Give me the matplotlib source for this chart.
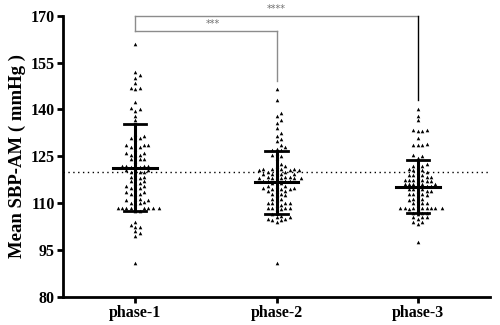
import numpy as np
import matplotlib
matplotlib.use("Agg")
import matplotlib.pyplot as plt

# values (mmHg)
groups = ["phase-1", "phase-2", "phase-3"]

phase1 = [161, 152, 151, 150, 148.5, 147, 147, 146.5, 142.5, 140.5, 140, 139.5, 138, 136.5,
          132, 131.5, 131, 131, 130.5,
          128.5, 128.5, 128, 128, 128.5, 127.5,
          126, 125.5, 125.5, 125.5, 126,
          124, 124, 123.5, 124,
          122, 122, 121.5, 122, 121.5, 122, 121,
          120.5, 120, 120.5, 120, 119.5, 120,
          118.5, 118, 118.5, 118,
          117, 116.5, 117, 116.5,
          115.5, 115, 115, 115.5, 114.5,
          113.5, 113, 113.5, 113, 113,
          111.5, 111, 111.5, 111,
          110, 110.5, 110, 110,
          108.5, 108.5, 108.5, 108.5, 108.5, 108.5, 108.5, 108.5,
          107.5, 107.5,
          104, 103, 102.5, 102.5, 101, 100.5, 99.5,
          91]

phase2 = [146.5, 143, 139, 138, 136.5, 135.5, 134, 132.5, 131.5, 130.5, 130, 128.5, 128,
          127.5, 127, 127, 126,
          125, 125.5, 124.5,
          122, 122.5, 122,
          121, 120.5, 121, 120.5, 121, 120.5, 121,
          120, 119.5, 120, 119.5, 119.5, 120, 119.5,
          118.5, 118, 118.5, 118, 118.5, 118, 118, 118.5, 118,
          117, 117, 116.5, 117, 116.5, 117, 117,
          115.5, 115.5, 115, 115.5, 115,
          114.5, 114, 114.5, 114, 114.5, 114,
          113, 112.5, 113, 112.5,
          111.5, 111, 111.5,
          110, 110, 109.5, 110, 109.5, 110,
          108.5, 108.5, 108, 108.5, 108, 108.5,
          106.5, 106,
          105, 105.5, 105, 105.5, 104.5, 104, 104.5,
          91]

phase3 = [140, 138, 136.5, 133.5, 133, 133, 133.5, 131, 129, 128.5, 128.5, 128.5,
          125, 125.5, 124.5,
          122, 122.5, 121.5, 122,
          121, 120.5, 120, 120.5, 120,
          119, 118.5, 119, 118.5, 119, 118.5,
          117.5, 117, 117.5, 117, 117.5, 117, 117.5,
          116, 116, 115.5, 116, 115.5, 116, 115.5, 116,
          114.5, 114, 114.5, 114, 114.5, 114,
          113, 112.5, 113, 112.5, 113,
          111.5, 111, 111.5, 111,
          110, 110, 109.5, 110,
          108.5, 108.5, 108.5, 108.5, 108.5, 108, 108.5, 108.5, 108.5, 108,
          107, 107, 106.5, 107,
          105.5, 105.5, 105, 105.5,
          104, 104, 103.5,
          97.5]

means = [121.4, 116.9, 115.3]
sd_low = [107.5, 106.7, 107.0]
sd_high = [135.2, 126.7, 123.7]

ref_line = 120
star_labels = ["***", "****"]

fig = plt.figure(figsize=(5, 3.25), dpi=100)
ax = fig.add_axes([0.126, 0.086, 0.854, 0.866])
ax.set_xlim(-0.51, 2.51)
ax.set_ylim(80, 170)

# pixel scale, used for a simple beeswarm layout
px_x = 0.854 * 500 / 3.02
px_y = 0.866 * 325 / 90.0
diam = 4.4


def swarm(vals, center):
    placed = []
    xs = []
    for v in vals:
        yv = v * px_y
        k = 0
        while True:
            offs = [0.0] if k == 0 else [k * diam * 0.5, -k * diam * 0.5]
            ok = None
            for o in offs:
                if all((o - px) ** 2 + (yv - py) ** 2 >= diam ** 2 for px, py in placed):
                    ok = o
                    break
            if ok is not None:
                placed.append((ok, yv))
                xs.append(center + ok / px_x)
                break
            k += 1
    return xs


for i, vals in enumerate([phase1, phase2, phase3]):
    vals = sorted(vals)
    xs = swarm(vals, i)
    ax.plot(xs, vals, "^", color="black", markersize=2.6, markeredgewidth=0, zorder=3)

    ax.plot([i - 0.155, i + 0.155], [means[i]] * 2, color="black", lw=2.2, zorder=4)
    ax.plot([i, i], [sd_low[i], sd_high[i]], color="black", lw=2.2, zorder=4)
    for v in (sd_low[i], sd_high[i]):
        ax.plot([i - 0.08, i + 0.08], [v, v], color="black", lw=2.0, zorder=4)

ax.axhline(ref_line, color="black", ls=(0, (1, 2.5)), lw=1.0, zorder=2)

# significance brackets: 1 vs 2 and 1 vs 3
ax.plot([0, 1], [165, 165], color="#8c8c8c", lw=1.0, clip_on=False)
ax.plot([1, 1], [165, 149], color="#8c8c8c", lw=1.0, clip_on=False)
ax.plot([0, 2], [170, 170], color="#8c8c8c", lw=1.0, clip_on=False)
ax.plot([0, 0], [170, 165], color="#8c8c8c", lw=1.0, clip_on=False)
ax.plot([2, 2], [170, 143], color="black", lw=1.0, clip_on=False)
ax.text(0.55, 165.6, star_labels[0], ha="center", va="bottom", fontsize=7, color="#707070")
ax.text(1.0, 170.6, star_labels[1], ha="center", va="bottom", fontsize=7, color="#707070",
        clip_on=False)

for s in ["top", "right"]:
    ax.spines[s].set_visible(False)
for s in ["left", "bottom"]:
    ax.spines[s].set_linewidth(2.0)

ax.set_yticks(np.arange(80, 171, 15))
ax.set_xticks(range(3))
ax.set_xticklabels(groups)
ax.tick_params(axis="both", width=2.0, length=4, direction="out", pad=2)
for lab in ax.get_xticklabels() + ax.get_yticklabels():
    lab.set_fontfamily("Liberation Serif")
    lab.set_fontweight("bold")
    lab.set_fontsize(11.5)
ax.set_ylabel("Mean SBP-AM ( mmHg )", fontfamily="Liberation Serif",
              fontweight="bold", fontsize=13.5, labelpad=3)

fig.savefig("out.png", dpi=100)
